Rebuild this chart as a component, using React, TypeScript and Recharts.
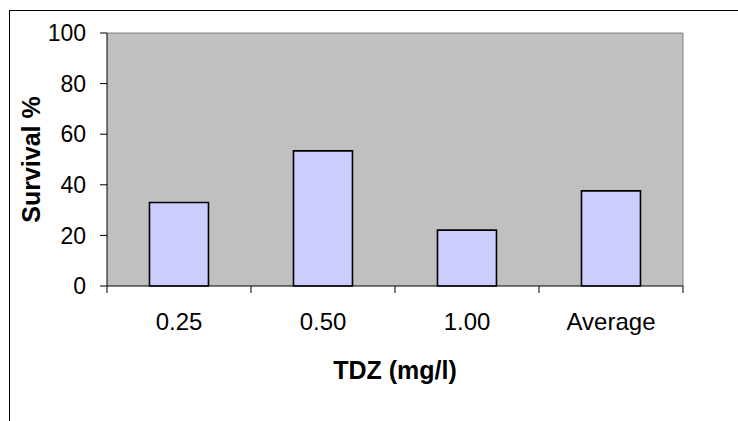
import React from 'react';
import { BarChart, Bar, XAxis, YAxis, CartesianGrid, Label } from 'recharts';

// TDZ concentrations and survival rates (%)
const concentrations = ['0.25', '0.50', '1.00', 'Average'];
const survival = [33.0, 53.4, 22.1, 37.6];
const yTicks = [0, 20, 40, 60, 80, 100];

const data = concentrations.map((c, i) => ({ tdz: c, survival: survival[i] }));

const CHART_W = 738;
const CHART_H = 421;
const Y_AXIS_W = 60;
const X_AXIS_H = 100;
const MARGIN = { top: 33, right: 55, bottom: 35, left: 47 };
const PLOT_W = CHART_W - MARGIN.left - Y_AXIS_W - MARGIN.right;
const BAND = PLOT_W / concentrations.length;

const FONT = 'Arial, "Liberation Sans", sans-serif';
const X_TICK_SIZE = 7;
const X_TICK_MARGIN = 20;

/**
 * Category tick: label in the middle of the band, tick marks on the band edges
 */
const CategoryTick = (props: any) => {
  const { x, y, payload, index } = props;
  const lineTop = y - X_TICK_MARGIN - X_TICK_SIZE;
  const lineBottom = y - X_TICK_MARGIN;
  const left = x - BAND / 2;
  const right = x + BAND / 2;
  return (
    <g>
      <line x1={left} x2={left} y1={lineTop} y2={lineBottom} stroke="#000" />
      {index === concentrations.length - 1 && (
        <line x1={right} x2={right} y1={lineTop} y2={lineBottom} stroke="#000" />
      )}
      <text
        x={x}
        y={y}
        dy="0.71em"
        textAnchor="middle"
        fill="#000"
        fontSize={24}
        fontFamily={FONT}
      >
        {payload.value}
      </text>
    </g>
  );
};

const App: React.FC = () => {
  return (
    <div
      style={{
        position: 'absolute',
        left: 0,
        top: 0,
        width: CHART_W,
        height: CHART_H,
        overflow: 'hidden',
        background: '#fff',
      }}
    >
      {/* chart frame */}
      <div
        style={{
          position: 'absolute',
          left: 9,
          top: 10,
          width: 800,
          height: 500,
          borderLeft: '1px solid #000',
          borderTop: '1px solid #000',
        }}
      />
      <div style={{ position: 'absolute', left: 0, top: 0 }}>
        <BarChart
          width={CHART_W}
          height={CHART_H}
          data={data}
          margin={MARGIN}
          barCategoryGap="29.5%"
        >
          <CartesianGrid
            fill="#C0C0C0"
            stroke="#808080"
            horizontalCoordinatesGenerator={({ offset }: any) => [offset.top]}
            verticalCoordinatesGenerator={({ offset }: any) => [offset.left + offset.width]}
          />
          <XAxis
            dataKey="tdz"
            height={X_AXIS_H}
            axisLine={{ stroke: '#000' }}
            tickLine={false}
            tickSize={X_TICK_SIZE}
            tickMargin={X_TICK_MARGIN}
            tick={<CategoryTick />}
            interval={0}
          >
            <Label
              content={({ viewBox }: any) => (
                <text
                  x={viewBox.x + viewBox.width / 2}
                  y={viewBox.y + 93}
                  textAnchor="middle"
                  fill="#000"
                  fontSize={25}
                  fontWeight="bold"
                  fontFamily={FONT}
                >
                  TDZ (mg/l)
                </text>
              )}
            />
          </XAxis>
          <YAxis
            width={Y_AXIS_W}
            domain={[0, 100]}
            ticks={yTicks}
            interval={0}
            axisLine={{ stroke: '#000' }}
            tickLine={{ stroke: '#000' }}
            tickSize={7}
            tickMargin={14}
            tick={{ fill: '#000', fontSize: 23, fontFamily: FONT }}
          >
            <Label
              content={({ viewBox }: any) => {
                const bx = viewBox.x - 7;
                const cy = viewBox.y + viewBox.height / 2;
                return (
                  <text
                    x={bx}
                    y={cy}
                    transform={`rotate(-90, ${bx}, ${cy})`}
                    textAnchor="middle"
                    fill="#000"
                    fontSize={25}
                    fontWeight="bold"
                    fontFamily={FONT}
                  >
                    Survival %
                  </text>
                );
              }}
            />
          </YAxis>
          <Bar
            dataKey="survival"
            fill="#CCCCFF"
            stroke="#000"
            strokeWidth={1.6}
            isAnimationActive={false}
          />
        </BarChart>
      </div>
    </div>
  );
};

export default App;
